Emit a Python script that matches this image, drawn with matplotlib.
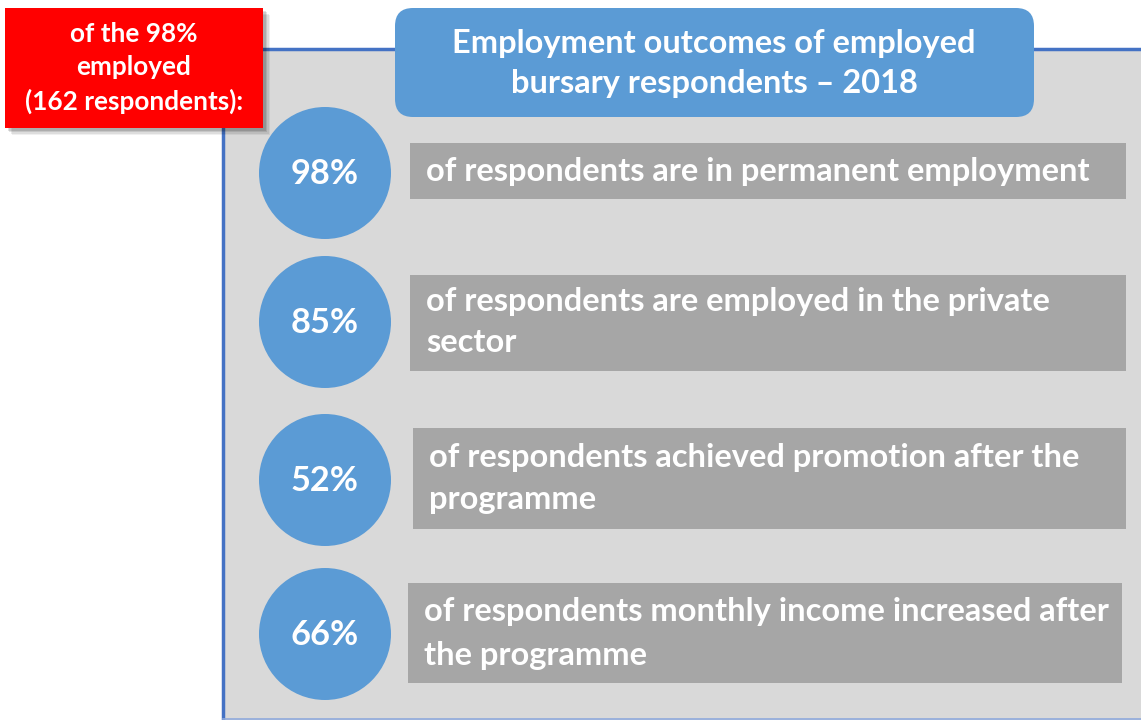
import matplotlib.pyplot as plt
from matplotlib.patches import Rectangle, Circle, FancyBboxPatch

# values
percents = [98, 85, 52, 66]
statements = [
    ["of respondents are in permanent employment"],
    ["of respondents are employed in the private", "sector"],
    ["of respondents achieved promotion after the", "programme"],
    ["of respondents monthly income increased after", "the programme"],
]
title_lines = ["Employment outcomes of employed", "bursary respondents \u2013 2018"]
note_lines = ["of the 98%", "employed", "(162 respondents):"]

# layout (pixels)
circle_y = [173, 322, 480, 634]
box_x = [410, 410, 413, 408]
box_top = [143, 275, 428, 583]
box_bottom = [199, 371, 529, 683]
box_right = [1126, 1126, 1126, 1122]
line_y = [[172], [302, 343], [458, 499], [612, 655]]

BLUE = "#5b9bd5"
FONT = "Lato"

fig = plt.figure(figsize=(11.41, 7.2), dpi=100)
ax = fig.add_axes([0, 0, 1, 1])
ax.set_xlim(0, 1141)
ax.set_ylim(720, 0)
ax.axis("off")

# grey panel with blue frame
ax.add_patch(Rectangle((223, 49), 930, 671, fc="#d9d9d9", ec="none", zorder=1))
ax.plot([223, 1141], [49, 49], color="#4472c4", lw=2.5, zorder=2)
ax.plot([223, 223], [49, 720], color="#4472c4", lw=2.5, zorder=2)
ax.plot([223, 1141], [718.5, 718.5], color="#8faadc", lw=1.2, zorder=2)

# red note box with soft shadow
for i, a in enumerate([0.06, 0.08, 0.10, 0.12]):
    off = 7 - i * 1.5
    ax.add_patch(Rectangle((5 + off, 8 + off), 258, 120, fc="black", alpha=a,
                           ec="none", zorder=3))
ax.add_patch(Rectangle((5, 8), 258, 120, fc="#ff0000", ec="none", zorder=4))

# title box
ax.add_patch(FancyBboxPatch((395, 8), 639, 109, boxstyle="round,pad=0,rounding_size=18",
                            fc=BLUE, ec="none", zorder=4))


def put(x, y, s, ha="left", size=20, family=FONT):
    t = ax.text(x, y, s, ha=ha, va="center", color="white", fontsize=size,
                fontweight="bold", family=family, zorder=6)
    return t


def fit(t, width):
    fig.canvas.draw()
    bb = t.get_window_extent(fig.canvas.get_renderer())
    return t.get_fontsize() * width / bb.width


# rows
row_texts = []
pcts = []
for i, p in enumerate(percents):
    ax.add_patch(Circle((325, circle_y[i]), 66, fc=BLUE, ec="none", zorder=4))
    ax.add_patch(Rectangle((box_x[i], box_top[i]), box_right[i] - box_x[i],
                           box_bottom[i] - box_top[i], fc="#a6a6a6", ec="none", zorder=4))
    pcts.append(put(325, circle_y[i] + 1, f"{p}%", ha="center", size=24))
    for j, line in enumerate(statements[i]):
        row_texts.append(put(box_x[i] + 16, line_y[i][j], line))

# font fitting
s_row = fit(row_texts[0], 664)
for t in row_texts:
    t.set_fontsize(s_row)

s_pct = fit(pcts[0], 68)
for t in pcts:
    t.set_fontsize(s_pct)

tt = [put(714, 43, title_lines[0], ha="center"), put(714, 83, title_lines[1], ha="center")]
s_title = fit(tt[0], 522)
for t in tt:
    t.set_fontsize(s_title)

nt = [put(134, 34, note_lines[0], ha="center"),
      put(134, 67, note_lines[1], ha="center"),
      put(134, 101, note_lines[2], ha="center")]
s_note = fit(nt[2], 218)
for t in nt:
    t.set_fontsize(s_note)

fig.savefig("out.png", dpi=100, facecolor="white")
